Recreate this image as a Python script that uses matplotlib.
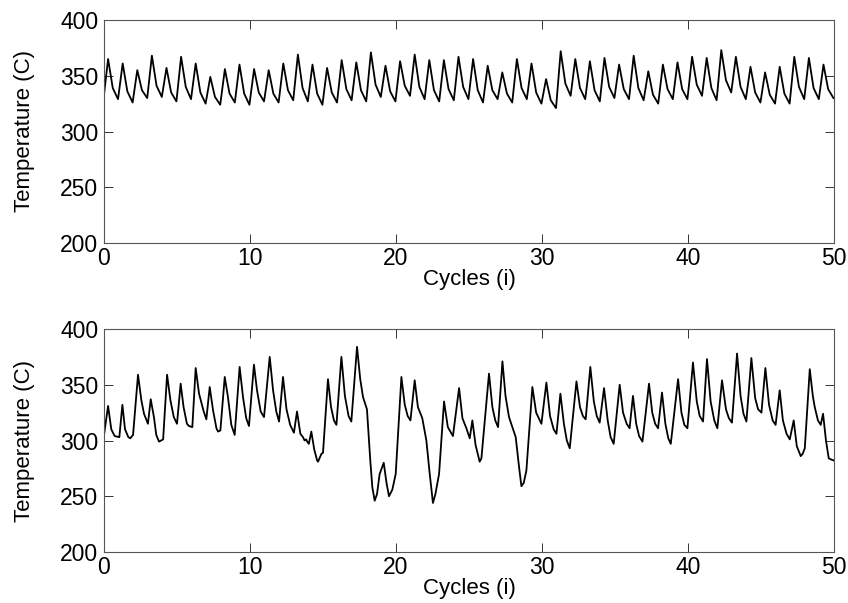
import numpy as np
import matplotlib
matplotlib.use("Agg")
import matplotlib.pyplot as plt

plt.rcParams['font.family'] = ['Liberation Sans', 'DejaVu Sans']

# ---------------- Top panel data (one oscillation per cycle) ----------------
top_start = 333
top_peak = [365, 361, 355, 368, 357, 367, 361, 349, 356, 360,
            356, 355, 361, 369, 360, 357, 364, 362, 371, 359,
            363, 369, 364, 364, 367, 365, 359, 353, 365, 361,
            347, 372, 365, 363, 366, 360, 368, 354, 360, 362,
            367, 366, 373, 367, 358, 353, 358, 367, 366, 360]
top_knee = [339, 336, 337, 341, 335, 340, 335, 331, 334, 334,
            335, 334, 337, 339, 334, 335, 338, 337, 342, 336,
            341, 340, 337, 338, 340, 337, 337, 334, 339, 335,
            328, 343, 339, 337, 340, 338, 339, 333, 338, 338,
            342, 339, 346, 340, 335, 333, 334, 340, 339, 338]
top_trough = [329, 326, 330, 331, 327, 329, 325, 324, 326, 324,
              327, 326, 328, 327, 324, 326, 328, 327, 331, 327,
              332, 329, 327, 328, 329, 326, 329, 326, 329, 325,
              321, 332, 329, 327, 330, 329, 328, 325, 329, 329,
              332, 328, 335, 329, 326, 325, 325, 329, 329, 330]

# ---------------- Bottom panel data (cycle, temperature) ----------------
bot_x = [0.00, 0.28, 0.50, 0.73, 1.05, 1.26, 1.44, 1.67, 1.80, 1.99,
         2.33, 2.56, 2.74, 3.01, 3.20, 3.42, 3.58, 3.77, 4.05, 4.32,
         4.55, 4.78, 5.00, 5.25, 5.45, 5.68, 5.82, 6.05, 6.28, 6.51,
         6.83, 7.01, 7.24, 7.47, 7.70, 7.81, 7.97, 8.27, 8.49, 8.72,
         8.95, 9.29, 9.52, 9.74, 9.93, 10.27, 10.48, 10.73, 10.96, 11.35,
         11.58, 11.80, 11.99, 12.26, 12.50, 12.75, 13.01, 13.22, 13.45, 13.63,
         13.74, 13.85, 13.92, 14.03, 14.20, 14.40, 14.60, 14.66, 14.89, 15.00,
         15.34, 15.55, 15.75, 15.92, 16.26, 16.50, 16.75, 16.94, 17.33, 17.55,
         17.74, 18.01, 18.24, 18.38, 18.54, 18.70, 18.88, 19.16, 19.35, 19.52,
         19.75, 19.98, 20.37, 20.60, 20.80, 20.99, 21.28, 21.50, 21.80, 22.08,
         22.31, 22.53, 22.70, 22.95, 23.29, 23.55, 23.90, 24.32, 24.55, 24.82,
         25.05, 25.23, 25.45, 25.73, 25.85, 26.37, 26.60, 26.80, 26.99, 27.29,
         27.50, 27.74, 27.97, 28.20, 28.43, 28.59, 28.75, 28.93, 29.34, 29.60,
         29.96, 30.30, 30.55, 30.80, 30.99, 31.26, 31.50, 31.70, 31.90, 32.36,
         32.60, 32.80, 32.99, 33.31, 33.55, 33.75, 33.95, 34.25, 34.50, 34.70,
         34.91, 35.32, 35.55, 35.80, 36.00, 36.23, 36.45, 36.65, 36.88, 37.33,
         37.55, 37.75, 37.95, 38.22, 38.45, 38.65, 38.82, 39.32, 39.55, 39.75,
         39.96, 40.34, 40.60, 40.80, 41.03, 41.30, 41.55, 41.80, 42.01, 42.33,
         42.60, 42.80, 43.01, 43.36, 43.60, 43.80, 44.00, 44.34, 44.60, 44.80,
         45.03, 45.30, 45.55, 45.80, 46.00, 46.28, 46.50, 46.75, 46.97, 47.24,
         47.45, 47.72, 47.85, 48.00, 48.34, 48.55, 48.68, 48.90, 49.09, 49.25,
         49.45, 49.64, 49.80, 50.00]
bot_y = [305, 331, 310, 304, 303, 332, 310, 303, 302, 305,
         359, 336, 324, 315, 337, 321, 305, 299, 301, 359,
         336, 321, 315, 351, 330, 315, 313, 312, 365, 342,
         326, 319, 348, 327, 311, 308, 309, 357, 339, 314,
         305, 366, 339, 320, 313, 368, 345, 326, 321, 375,
         345, 326, 317, 357, 328, 314, 307, 326, 306, 303,
         300, 301, 299, 297, 308, 292, 282, 281, 288, 289,
         355, 330, 318, 314, 375, 340, 322, 317, 384, 355,
         339, 328, 282, 258, 246, 252, 270, 280, 262, 250,
         256, 270, 357, 332, 322, 318, 354, 330, 320, 300,
         270, 244, 252, 270, 335, 312, 304, 347, 320, 311,
         302, 318, 296, 281, 284, 360, 330, 318, 312, 371,
         340, 321, 312, 303, 276, 259, 262, 273, 348, 325,
         315, 352, 322, 310, 306, 342, 315, 300, 293, 353,
         330, 322, 319, 366, 335, 322, 316, 347, 318, 303,
         297, 350, 325, 315, 311, 340, 315, 304, 299, 351,
         325, 315, 311, 343, 315, 302, 297, 355, 325, 314,
         311, 370, 335, 322, 317, 373, 335, 318, 311, 354,
         328, 320, 316, 378, 340, 324, 317, 374, 338, 328,
         325, 365, 332, 318, 314, 345, 318, 306, 301, 318,
         295, 286, 288, 293, 364, 340, 330, 318, 314, 324,
         300, 284, 283, 282]

x_ticks = [0, 10, 20, 30, 40, 50]
y_ticks = [200, 250, 300, 350, 400]
x_label = "Cycles (i)"
y_label = "Temperature (C)"

# build top series: start, then per cycle peak -> knee -> trough
top_x = [0.0]
top_y = [top_start]
for k in range(len(top_peak)):
    top_x += [k + 0.28, k + 0.60, min(k + 0.96, 50.0)]
    top_y += [top_peak[k], top_knee[k], top_trough[k]]

W, H = 848, 603
fig = plt.figure(figsize=(W / 100, H / 100), dpi=100)
left = 104 / W
width = (834 - 104) / W
ax1 = fig.add_axes([left, 1 - 243 / H, width, (243 - 20) / H])
ax2 = fig.add_axes([left, 1 - 552 / H, width, (552 - 329) / H])

for ax, xs, ys in ((ax1, top_x, top_y), (ax2, bot_x, bot_y)):
    ax.plot(xs, ys, color='black', linewidth=1.3, solid_joinstyle='round')
    ax.set_xlim(0, 50)
    ax.set_ylim(200, 400)
    ax.set_xticks(x_ticks)
    ax.set_yticks(y_ticks)
    ax.tick_params(direction='in', top=True, right=True, length=6.5,
                   width=0.7, colors='#333333', labelcolor='black',
                   labelsize=16.5)
    ax.tick_params(axis='x', pad=3)
    ax.tick_params(axis='y', pad=4)
    for s in ax.spines.values():
        s.set_color('#555555')
        s.set_linewidth(0.8)
    ax.set_xlabel(x_label, fontsize=16, labelpad=-1)
    ax.set_ylabel(y_label, fontsize=16, labelpad=18)

fig.savefig("out.png", dpi=100)
